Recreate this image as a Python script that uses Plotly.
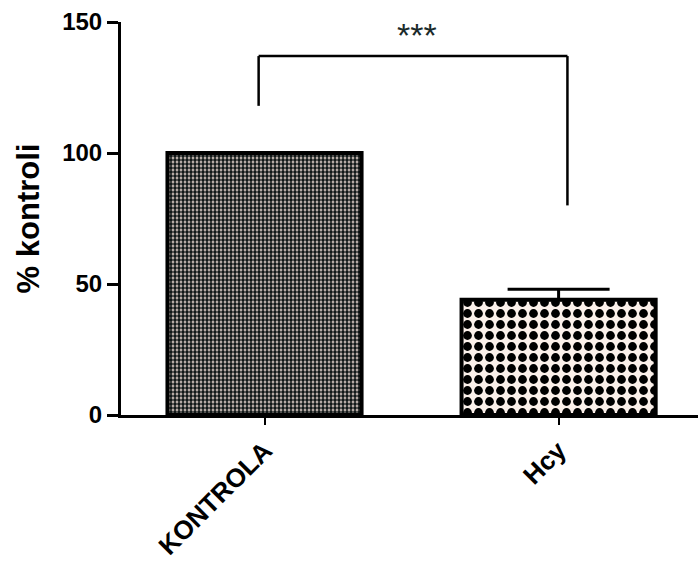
import plotly.graph_objects as go

categories = ["KONTROLA", "Hcy"]
values = [100, 44]
errors_plus = [0, 4]
errors_minus = [0, 0]
y_ticks = [0, 50, 100, 150]
bracket_top = 137
bracket_left_bottom = 118
bracket_right_bottom = 80
bracket_x = [-0.02, 1.03]
sig_label = "***"

FONT = "Arial, Liberation Sans, sans-serif"

fig = go.Figure()
fig.add_trace(go.Bar(
    x=[categories[0]], y=[values[0]],
    width=0.66,
    marker=dict(color="white", line=dict(color="black", width=4),
                pattern=dict(shape=".", fgcolor="#111818", bgcolor="#f6e4dc", size=4, solidity=0.7, fillmode="replace")),
    showlegend=False,
))
fig.add_trace(go.Bar(
    x=[categories[1]], y=[values[1]],
    width=0.66,
    marker=dict(color="white", line=dict(color="black", width=4),
                pattern=dict(shape=".", fgcolor="black", bgcolor="#fbf0ea", size=11, solidity=0.5, fillmode="replace")),
    error_y=dict(type="data", symmetric=False, array=[errors_plus[1]], arrayminus=[errors_minus[1]],
                 color="black", thickness=3, width=51),
    showlegend=False,
))

# significance bracket
fig.add_shape(type="line", xref="x", yref="y", x0=bracket_x[0], x1=bracket_x[0],
              y0=bracket_left_bottom, y1=bracket_top, line=dict(color="black", width=2.5))
fig.add_shape(type="line", xref="x", yref="y", x0=bracket_x[0], x1=bracket_x[1],
              y0=bracket_top, y1=bracket_top, line=dict(color="black", width=2.5))
fig.add_shape(type="line", xref="x", yref="y", x0=bracket_x[1], x1=bracket_x[1],
              y0=bracket_right_bottom, y1=bracket_top, line=dict(color="black", width=2.5))
fig.add_annotation(x=0.52, y=145, xref="x", yref="y", text=sig_label, showarrow=False,
                   font=dict(family=FONT, size=34, color="#1a2a2a"))

fig.update_layout(
    width=698, height=568,
    margin=dict(l=121, r=0, t=22, b=153),
    paper_bgcolor="white", plot_bgcolor="white",
    barmode="overlay",
    font=dict(family=FONT, color="black"),
    xaxis=dict(
        type="category", categoryorder="array", categoryarray=categories,
        range=[-0.488, 1.474],
        showline=True, linecolor="black", linewidth=3,
        ticks="outside", ticklen=7, tickwidth=2, tickcolor="black",
        tickangle=-45, automargin=False,
        tickfont=dict(family=FONT, size=26, color="black", weight="bold"),
        showgrid=False, zeroline=False,
    ),
    yaxis=dict(
        range=[0, 150], tickvals=y_ticks, automargin=False,
        showline=True, linecolor="black", linewidth=3,
        ticks="outside", ticklen=11, tickwidth=3, tickcolor="black",
        tickfont=dict(family=FONT, size=24, color="black", weight="bold"),
        title=dict(text="% kontroli", font=dict(family=FONT, size=31, color="black", weight="bold"), standoff=14),
        showgrid=False, zeroline=False,
    ),
)

fig.write_html("out.html", config={"displayModeBar": False},
               post_script="document.body.style.margin='0';document.body.style.overflow='hidden';")
